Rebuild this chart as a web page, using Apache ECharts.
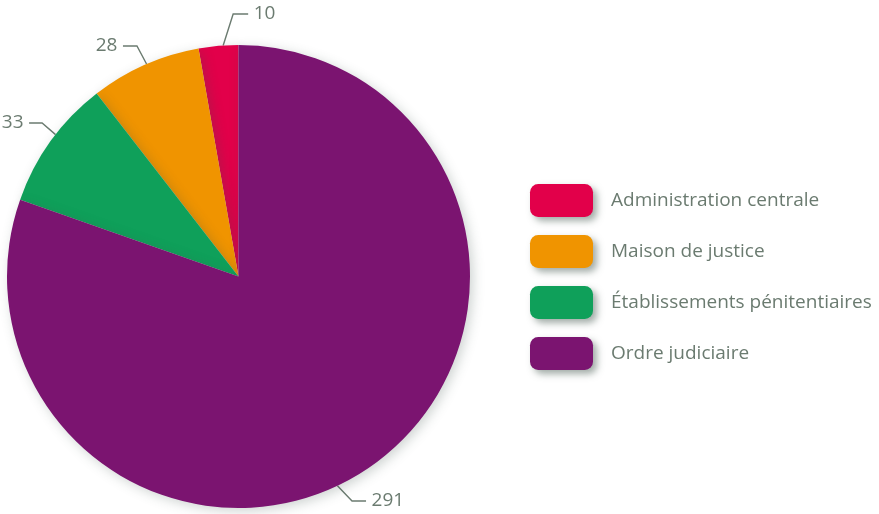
<!DOCTYPE html>
<html><head><meta charset="utf-8">
<script src="https://cdn.jsdelivr.net/npm/echarts@6/dist/echarts.min.js"></script>
<style>html,body{margin:0;padding:0;background:#fff}#c{width:879px;height:514px}</style>
</head><body><div id="c"></div>
<script>
const categories = ['Administration centrale', 'Maison de justice', 'Établissements pénitentiaires', 'Ordre judiciaire'];
const values = [10, 28, 33, 291];
const colors = ['#E2004A', '#F09400', '#0FA05A', '#7B1470'];

// label guide styling: anchor angle on rim (deg, clockwise from top), elbow offset, tail length
const guides = [
  {angle: -3.8,  dx: 10,   dy: -31.5, len: 15},
  {angle: -23.4, dx: -9.6, dy: -18,   len: -14},
  {angle: -52.2, dx: -13.5, dy: -11.6, len: -13},
  {angle: 154.7, dx: 14.6, dy: 15.2,  len: 14}
];
const CX = 238.5, CY = 276.5, R = 231.5, TEXT_GAP = 5.5;

const chart = echarts.init(document.getElementById('c'), null, {renderer: 'canvas'});
chart.setOption({
  animation: false,
  color: colors,
  legend: {
    orient: 'vertical',
    left: 530,
    top: 184,
    padding: 0,
    itemWidth: 63,
    itemHeight: 33,
    itemGap: 18,
    icon: 'roundRect',
    itemStyle: {shadowBlur: 7, shadowColor: 'rgba(70,90,80,0.5)', shadowOffsetX: 4, shadowOffsetY: 4},
    textStyle: {fontFamily: 'Open Sans', fontSize: 19, color: '#6B7B70', padding: [0, 0, 0, 13]},
    data: categories
  },
  series: [{
    type: 'pie',
    center: [CX, CY],
    radius: [0, R],
    startAngle: 90,
    clockwise: false,
    avoidLabelOverlap: false,
    label: {
      show: true,
      formatter: '{c}',
      fontFamily: 'Open Sans',
      fontSize: 19,
      color: '#6B7B70'
    },
    labelLine: {show: true, length: 18, length2: 14, lineStyle: {color: '#6B7B70', width: 1.4}},
    labelLayout: function (p) {
      const g = guides[p.dataIndex];
      const a = g.angle * Math.PI / 180;
      const p0 = [CX + R * Math.sin(a), CY - R * Math.cos(a)];
      const p1 = [p0[0] + g.dx, p0[1] + g.dy];
      const p2 = [p1[0] + g.len, p1[1]];
      const right = g.len > 0;
      return {
        x: p2[0] + (right ? TEXT_GAP : -TEXT_GAP),
        y: p2[1],
        align: right ? 'left' : 'right',
        verticalAlign: 'middle',
        labelLinePoints: [p0, p1, p2]
      };
    },
    itemStyle: {borderWidth: 0, shadowBlur: 12, shadowColor: 'rgba(60,80,70,0.25)', shadowOffsetX: 3, shadowOffsetY: 3},
    data: categories.map((n, i) => ({name: n, value: values[i]}))
  }]
});
</script></body></html>
